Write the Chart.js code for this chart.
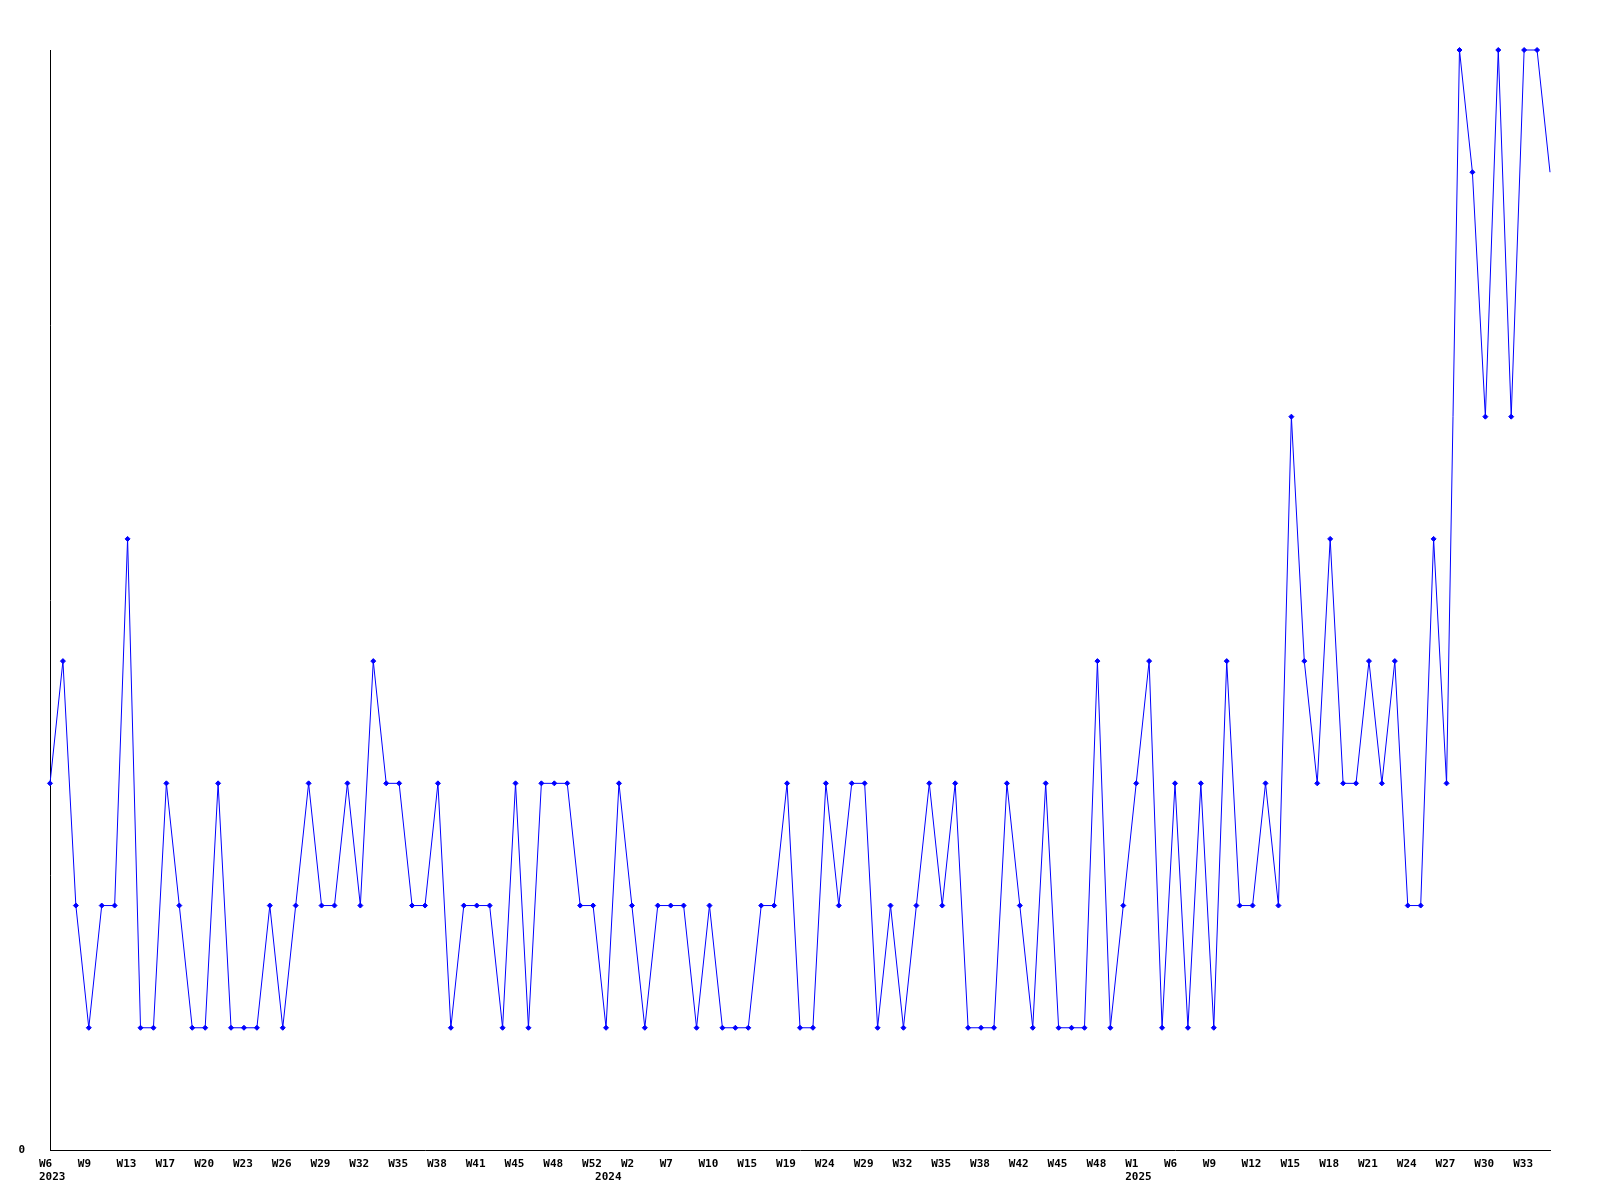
<!DOCTYPE html>
<html>
<head>
<meta charset="utf-8">
<script src="https://cdn.jsdelivr.net/npm/chart.js@4/dist/chart.umd.min.js"></script>
<style>
  html, body { margin: 0; padding: 0; background: #ffffff; }
  #weeklyChart { display: block; }
</style>
</head>
<body>
<canvas id="weeklyChart" width="1600" height="1200"></canvas>
<script>
// Semaines présentes dans les données, par année
const weeks2023 = [6, 7, 8, 9, 10, 11, 13, 14, 15, 17, 18, 19, 20, 21, 22, 23, 24, 25, 26, 27, 28, 29, 30, 31,
  32, 33, 34, 35, 36, 37, 38, 39, 40, 41, 42, 43, 45, 46, 47, 48, 49, 50, 52];
const weeks2024 = [1, 1, 2, 4, 6, 7, 8, 9, 10, 12, 13, 15, 16, 17, 19, 21, 22, 24, 26, 27, 29, 30, 31, 32,
  33, 34, 35, 36, 37, 38, 40, 41, 42, 43, 44, 45, 46, 47, 48, 50, 51];
const weeks2025 = [1, 3, 4, 6, 7, 8, 9, 10, 11, 12, 13, 14, 15, 16, 17, 18, 19, 20, 21, 22, 23, 24, 25, 26,
  27, 28, 29, 30, 31, 32, 33, 34, 35];

// Valeurs hebdomadaires
const counts = [
  3, 4, 2, 1, 2, 2, 5, 1, 1, 3,
  2, 1, 1, 3, 1, 1, 1, 2, 1, 2,
  3, 2, 2, 3, 2, 4, 3, 3, 2, 2,
  3, 1, 2, 2, 2, 1, 3, 1, 3, 3,
  3, 2, 2, 1, 3, 2, 1, 2, 2, 2,
  1, 2, 1, 1, 1, 2, 2, 3, 1, 1,
  3, 2, 3, 3, 1, 2, 1, 2, 3, 2,
  3, 1, 1, 1, 3, 2, 1, 3, 1, 1,
  1, 4, 1, 2, 3, 4, 1, 3, 1, 3,
  1, 4, 2, 2, 3, 2, 6, 4, 3, 5,
  3, 3, 4, 3, 4, 2, 2, 5, 3, 9,
  8, 6, 9, 6, 9, 9, 8
];

// Axe Y : seule la graduation 0 est affichée
const yMax = 9;
const yTicks = [0];
const labelEvery = 3;

// Construction des catégories "année-semaine"
const labels = [
  ...weeks2023.map(w => ({ year: '2023', week: 'W' + w })),
  ...weeks2024.map(w => ({ year: '2024', week: 'W' + w })),
  ...weeks2025.map(w => ({ year: '2025', week: 'W' + w }))
];

const monoFont = { family: "'DejaVu Sans Mono', monospace", size: 11, weight: 'bold', lineHeight: 1.25 };

const ctx = document.getElementById('weeklyChart');

new Chart(ctx, {
  type: 'line',
  data: {
    labels: labels.map(l => l.year + '-' + l.week),
    datasets: [{
      data: counts,
      borderColor: '#0000ff',
      backgroundColor: '#0000ff',
      borderWidth: 1,
      tension: 0,
      fill: false,
      clip: false,
      pointStyle: 'rectRot',
      pointRadius: c => (c.dataIndex === counts.length - 1 ? 0 : 2.5),
      pointHoverRadius: c => (c.dataIndex === counts.length - 1 ? 0 : 2.5),
      pointBorderWidth: 1,
      pointBorderColor: '#0000ff',
      pointBackgroundColor: '#0000ff'
    }]
  },
  options: {
    responsive: false,
    devicePixelRatio: 1,
    animation: false,
    layout: { padding: { top: 50, right: 50, bottom: 0, left: 0 } },
    plugins: {
      legend: { display: false },
      tooltip: { enabled: false }
    },
    scales: {
      x: {
        type: 'category',
        offset: false,
        grid: { display: false },
        border: { display: true, color: '#000000', width: 1 },
        afterFit: s => { s.height = 50; },
        ticks: {
          autoSkip: false,
          maxRotation: 0,
          minRotation: 0,
          align: 'start',
          labelOffset: -11,
          padding: -1,
          color: '#000000',
          font: monoFont,
          callback: (val, i) => {
            const week = i % labelEvery === 0 ? labels[i].week : '';
            const newYear = i === 0 || labels[i].year !== labels[i - 1].year;
            if (newYear) return [week, labels[i].year];
            return week;
          }
        }
      },
      y: {
        min: 0,
        max: yMax,
        grid: { display: false },
        border: { display: true, color: '#000000', width: 1 },
        afterFit: s => { s.width = 50; },
        afterBuildTicks: axis => { axis.ticks = yTicks.map(v => ({ value: v })); },
        ticks: {
          padding: 17,
          color: '#000000',
          font: monoFont,
          callback: v => String(v)
        }
      }
    }
  }
});
</script>
</body>
</html>
